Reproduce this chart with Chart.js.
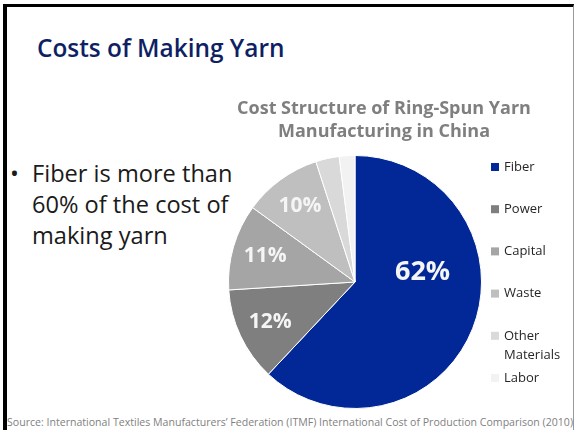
<!DOCTYPE html>
<html>
<head>
<meta charset="utf-8">
<script src="https://cdn.jsdelivr.net/npm/chart.js@4.4.1/dist/chart.umd.min.js"></script>
<style>
  html, body { margin: 0; padding: 0; background: #fff; }
  body { width: 576px; height: 430px; position: relative; overflow: hidden; font-family: "Open Sans", "Noto Sans", sans-serif; }
  .frame { position: absolute; left: 3px; top: 4px; width: 566px; height: 440px;
           border-left: 4px solid #000; border-top: 3px solid #000; border-right: 1px solid #999; }
  .slide-title { position: absolute; left: 37px; top: 31px; font-size: 24.4px; font-weight: 600; color: #0f1f64; white-space: nowrap; }
  .bullet { position: absolute; left: 10px; top: 158px; font-size: 23.6px; line-height: 31px; color: #1a1a1a; }
  .bullet span.dot { position: absolute; left: 0; }
  .bullet div.txt { margin-left: 22px; }
  .source { position: absolute; left: 7px; top: 415px; font-size: 10.5px; color: #7f7f7f; white-space: nowrap; transform-origin: 0 0; }
  #wrap { position: absolute; left: 200px; top: 90px; width: 368px; height: 322px; }
</style>
</head>
<body>
<div class="frame"></div>
<div class="slide-title">Costs of Making Yarn</div>
<div class="bullet"><span class="dot">•</span><div class="txt">Fiber is more than<br>60% of the cost of<br>making yarn</div></div>
<div id="wrap"><canvas id="costChart"></canvas></div>
<div class="source" id="source">Source: International Textiles Manufacturers’ Federation (ITMF) International Cost of Production Comparison (2010)</div>

<script>
// ================== Data ==================
const categories = ['Fiber', 'Power', 'Capital', 'Waste', 'Other Materials', 'Labor'];
const shares = [62, 12, 11, 10, 3, 2];
const sliceColors = ['#012896', '#7f7f7f', '#a5a5a5', '#bfbfbf', '#d9d9d9', '#f2f2f2'];
const chartTitle = ['Cost Structure of Ring-Spun Yarn', 'Manufacturing in China'];

// stretch the source line to the slide width
const src = document.getElementById('source');
src.style.transform = 'scaleX(' + (566 / src.scrollWidth) + ')';

// chart title, centred over the whole chart box (pie + legend)
const topTitle = {
  id: 'topTitle',
  afterDraw(chart) {
    const c = chart.ctx;
    c.save();
    c.fillStyle = '#7f7f7f';
    c.font = 'bold 18px "Open Sans", sans-serif';
    c.textAlign = 'center';
    c.textBaseline = 'middle';
    chartTitle.forEach(function (t, i) {
      c.fillText(t, chart.width / 2, 19 + i * 23);
    });
    c.restore();
  }
};

// labels inside the slices (only the big ones)
const sliceLabels = {
  id: 'sliceLabels',
  afterDatasetsDraw(chart) {
    const c = chart.ctx;
    const meta = chart.getDatasetMeta(0);
    c.save();
    c.fillStyle = '#f5f5f5';
    c.textAlign = 'center';
    c.textBaseline = 'middle';
    meta.data.forEach(function (arc, i) {
      const v = shares[i];
      if (v < 5) return;
      let mid = (arc.startAngle + arc.endAngle) / 2;
      let frac = 0.74;
      let size = 21;
      if (v > 50) { mid = -Math.PI / 2 + 81.6 * Math.PI / 180; frac = 0.54; size = 27; }
      const r = arc.outerRadius * frac;
      c.font = 'bold ' + size + 'px "Open Sans", sans-serif';
      c.fillText(v + '%', arc.x + Math.cos(mid) * r, arc.y + Math.sin(mid) * r);
    });
    c.restore();
  }
};

// legend drawn at the right of the pie, with wrapped text
const sideLegend = {
  id: 'sideLegend',
  afterDraw(chart) {
    const c = chart.ctx;
    const area = chart.chartArea;
    const x = area.right + 9;
    const maxW = 65;
    c.save();
    c.font = '13px "Open Sans", sans-serif';
    c.textBaseline = 'middle';
    categories.forEach(function (name, i) {
      const y = area.top + 12 + i * 42.2;
      c.fillStyle = sliceColors[i];
      c.fillRect(x, y - 4, 8, 8);
      c.fillStyle = '#262626';
      // simple word wrap
      const words = name.split(' ');
      let line = '';
      let ly = y;
      words.forEach(function (w) {
        const test = line ? line + ' ' + w : w;
        if (line && c.measureText(test).width > maxW) {
          c.fillText(line, x + 13, ly);
          line = w;
          ly += 19;
        } else {
          line = test;
        }
      });
      c.fillText(line, x + 13, ly);
    });
    c.restore();
  }
};

new Chart(document.getElementById('costChart'), {
  type: 'pie',
  data: {
    labels: categories,
    datasets: [{
      data: shares,
      backgroundColor: sliceColors,
      borderColor: '#ffffff',
      borderWidth: 1
    }]
  },
  options: {
    responsive: true,
    maintainAspectRatio: false,
    animation: false,
    layout: { padding: { left: 28, right: 86, top: 65, bottom: 3 } },
    plugins: {
      legend: { display: false },
      tooltip: { enabled: false }
    }
  },
  plugins: [topTitle, sliceLabels, sideLegend]
});
</script>
</body>
</html>
